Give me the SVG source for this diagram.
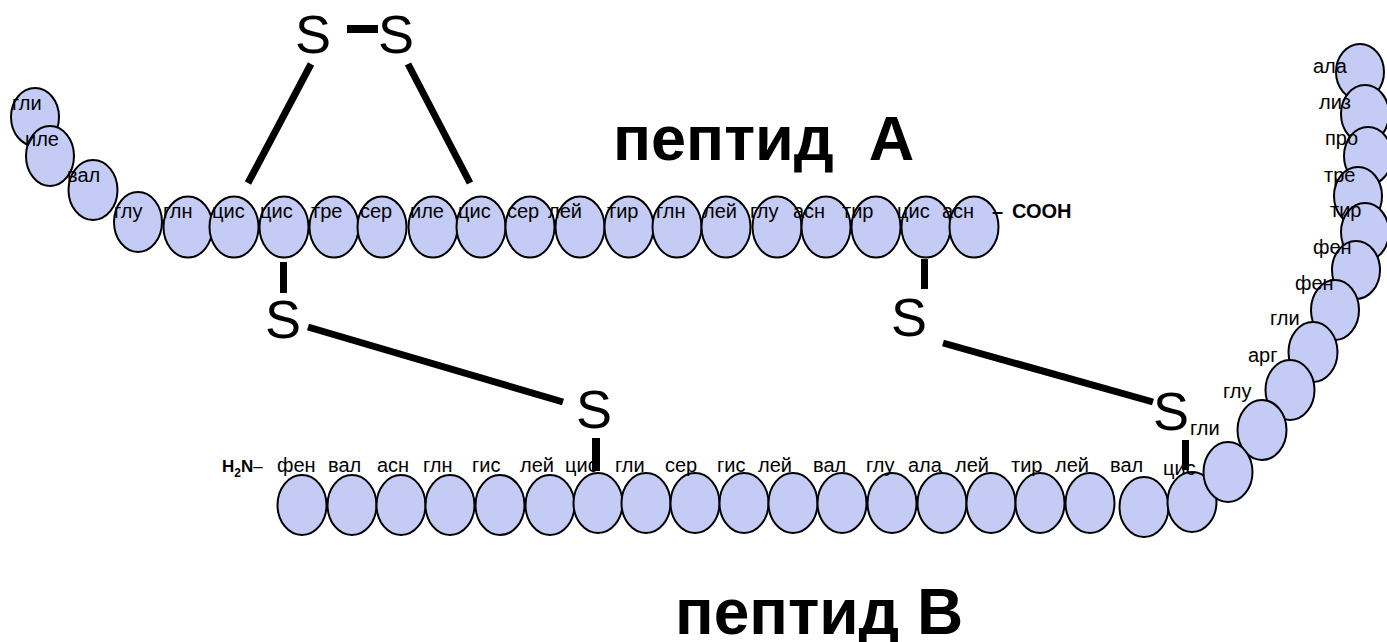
<svg xmlns="http://www.w3.org/2000/svg" width="1387" height="642" viewBox="0 0 1387 642">
<style>
.aa ellipse{fill:#c4ccf5;stroke:#000;stroke-width:2}
.aa text,.lbl{font-family:"Liberation Sans",Arial,sans-serif;font-size:20px;fill:#000}
.s{font-family:"Liberation Sans",Arial,sans-serif;font-size:54px;fill:#000}
.title{font-family:"Liberation Sans",Arial,sans-serif;font-weight:bold;fill:#000}
.b{font-family:"Liberation Sans",Arial,sans-serif;font-weight:bold;fill:#000}
#bonds line{stroke:#000;stroke-width:7}
#bonds rect{fill:#000}
</style>
<rect width="1387" height="642" fill="#fff"/>
<g id="chainA">
<g id="a1" class="aa"><ellipse cx="35" cy="117" rx="24" ry="29"/><text x="12" y="110">гли</text></g>
<g id="a2" class="aa"><ellipse cx="50" cy="156" rx="24" ry="30"/><text x="25" y="146">иле</text></g>
<g id="a3" class="aa"><ellipse cx="93" cy="190" rx="24.5" ry="30"/><text x="67" y="182">вал</text></g>
<g id="a4" class="aa"><ellipse cx="138" cy="222" rx="24" ry="30"/><text x="114" y="218">глу</text></g>
<g id="a5" class="aa"><ellipse cx="188" cy="227" rx="24.5" ry="30.5"/><text x="163" y="218">глн</text></g>
<g id="a6" class="aa"><ellipse cx="234" cy="227" rx="24.5" ry="30.5"/><text x="212" y="218">цис</text></g>
<g id="a7" class="aa"><ellipse cx="284" cy="227" rx="24.5" ry="30.5"/><text x="260" y="218">цис</text></g>
<g id="a8" class="aa"><ellipse cx="334" cy="227" rx="24.5" ry="30.5"/><text x="311" y="218">тре</text></g>
<g id="a9" class="aa"><ellipse cx="382" cy="227" rx="24.5" ry="30.5"/><text x="360" y="218">сер</text></g>
<g id="a10" class="aa"><ellipse cx="433" cy="227" rx="24.5" ry="30.5"/><text x="410" y="218">иле</text></g>
<g id="a11" class="aa"><ellipse cx="481" cy="227" rx="24.5" ry="30.5"/><text x="458" y="218">цис</text></g>
<g id="a12" class="aa"><ellipse cx="530" cy="227" rx="24.5" ry="30.5"/><text x="507" y="218">сер</text></g>
<g id="a13" class="aa"><ellipse cx="580" cy="227" rx="24.5" ry="30.5"/><text x="548" y="218">лей</text></g>
<g id="a14" class="aa"><ellipse cx="629" cy="227" rx="24.5" ry="30.5"/><text x="607" y="218">тир</text></g>
<g id="a15" class="aa"><ellipse cx="677" cy="227" rx="24.5" ry="30.5"/><text x="656" y="218">глн</text></g>
<g id="a16" class="aa"><ellipse cx="726" cy="227" rx="24.5" ry="30.5"/><text x="703" y="218">лей</text></g>
<g id="a17" class="aa"><ellipse cx="777" cy="227" rx="24.5" ry="30.5"/><text x="750" y="218">глу</text></g>
<g id="a18" class="aa"><ellipse cx="826" cy="227" rx="24.5" ry="30.5"/><text x="793" y="218">асн</text></g>
<g id="a19" class="aa"><ellipse cx="876" cy="227" rx="24.5" ry="30.5"/><text x="842" y="218">тир</text></g>
<g id="a20" class="aa"><ellipse cx="926" cy="227" rx="24.5" ry="30.5"/><text x="897" y="218">цис</text></g>
<g id="a21" class="aa"><ellipse cx="974" cy="227" rx="24.5" ry="30.5"/><text x="942" y="218">асн</text></g>
<g id="cooh"><text class="b" x="992" y="218" font-size="20">–</text><text class="b" x="1012" y="218" font-size="20">СООН</text></g>
</g>
<g id="chainB">
<g id="h2n"><text class="b" x="222" y="472" font-size="17">H<tspan font-size="12" dy="5">2</tspan><tspan dy="-5">N</tspan><tspan font-weight="normal">–</tspan></text></g>
<g id="b1" class="aa"><ellipse cx="302" cy="505" rx="24.5" ry="30"/><text x="277" y="472">фен</text></g>
<g id="b2" class="aa"><ellipse cx="352" cy="505" rx="24.5" ry="30"/><text x="328" y="472">вал</text></g>
<g id="b3" class="aa"><ellipse cx="401" cy="505" rx="24.5" ry="30"/><text x="377" y="472">асн</text></g>
<g id="b4" class="aa"><ellipse cx="450" cy="505" rx="24.5" ry="30"/><text x="423" y="472">глн</text></g>
<g id="b5" class="aa"><ellipse cx="500" cy="505" rx="24.5" ry="30"/><text x="472" y="472">гис</text></g>
<g id="b6" class="aa"><ellipse cx="550" cy="505" rx="24.5" ry="30"/><text x="520" y="472">лей</text></g>
<g id="b7" class="aa"><ellipse cx="598" cy="503" rx="24.5" ry="30"/><text x="565" y="472">цис</text></g>
<g id="b8" class="aa"><ellipse cx="646" cy="503" rx="24.5" ry="30"/><text x="615" y="472">гли</text></g>
<g id="b9" class="aa"><ellipse cx="695" cy="503" rx="24.5" ry="30"/><text x="665" y="472">сер</text></g>
<g id="b10" class="aa"><ellipse cx="744" cy="503" rx="24.5" ry="30"/><text x="717" y="472">гис</text></g>
<g id="b11" class="aa"><ellipse cx="793" cy="503" rx="24.5" ry="30"/><text x="758" y="472">лей</text></g>
<g id="b12" class="aa"><ellipse cx="842" cy="503" rx="24.5" ry="30"/><text x="813" y="472">вал</text></g>
<g id="b13" class="aa"><ellipse cx="892" cy="503" rx="24.5" ry="30"/><text x="866" y="472">глу</text></g>
<g id="b14" class="aa"><ellipse cx="942" cy="503" rx="24.5" ry="30"/><text x="908" y="472">ала</text></g>
<g id="b15" class="aa"><ellipse cx="991" cy="503" rx="24.5" ry="30"/><text x="955" y="472">лей</text></g>
<g id="b16" class="aa"><ellipse cx="1040" cy="503" rx="24.5" ry="30"/><text x="1011" y="472">тир</text></g>
<g id="b17" class="aa"><ellipse cx="1090" cy="503" rx="24.5" ry="30"/><text x="1055" y="472">лей</text></g>
<g id="b18" class="aa"><ellipse cx="1144" cy="507" rx="24.5" ry="30"/><text x="1110" y="472">вал</text></g>
<g id="b19" class="aa"><ellipse cx="1192" cy="502" rx="24.5" ry="30"/><text x="1163" y="475">цис</text></g>
<g id="r11" class="aa"><ellipse cx="1360" cy="72" rx="24" ry="28"/><text x="1313" y="73">ала</text></g>
<g id="r10" class="aa"><ellipse cx="1365" cy="114" rx="24" ry="29"/><text x="1319" y="109">лиз</text></g>
<g id="r9" class="aa"><ellipse cx="1368" cy="156" rx="24" ry="29"/><text x="1325" y="145">про</text></g>
<g id="r8" class="aa"><ellipse cx="1358" cy="196" rx="24" ry="29"/><text x="1324" y="182">тре</text></g>
<g id="r7" class="aa"><ellipse cx="1365" cy="232" rx="24" ry="29"/><text x="1330" y="217">тир</text></g>
<g id="r6" class="aa"><ellipse cx="1356" cy="270" rx="24" ry="29"/><text x="1313" y="254">фен</text></g>
<g id="r5" class="aa"><ellipse cx="1335" cy="310" rx="24" ry="30"/><text x="1295" y="290">фен</text></g>
<g id="r4" class="aa"><ellipse cx="1313" cy="352" rx="24.5" ry="30"/><text x="1270" y="325">гли</text></g>
<g id="r3" class="aa"><ellipse cx="1290" cy="390" rx="24.5" ry="30"/><text x="1248" y="362">арг</text></g>
<g id="r2" class="aa"><ellipse cx="1262" cy="430" rx="24.5" ry="30"/><text x="1223" y="398">глу</text></g>
<g id="r1" class="aa"><ellipse cx="1228" cy="472" rx="24.5" ry="30"/><text x="1190" y="435">гли</text></g>
</g>
<g id="bonds">
<rect x="347" y="25" width="31" height="8"/>
<line x1="311" y1="64" x2="248" y2="183"/>
<line x1="408" y1="64" x2="470" y2="183"/>
<rect x="280" y="262" width="7" height="31"/>
<line x1="308" y1="327" x2="563" y2="402"/>
<rect x="592" y="438" width="8" height="33"/>
<rect x="921" y="259" width="7" height="30"/>
<line x1="943" y1="343" x2="1153" y2="402"/>
<rect x="1182" y="440" width="7" height="30"/>
</g>
<g id="sulfurs">
<text class="s" x="313" y="53" text-anchor="middle">S</text>
<text class="s" x="396" y="53" text-anchor="middle">S</text>
<text class="s" x="283" y="338" text-anchor="middle">S</text>
<text class="s" x="594" y="428" text-anchor="middle">S</text>
<text class="s" x="909" y="336" text-anchor="middle">S</text>
<text class="s" x="1171" y="430" text-anchor="middle">S</text>
</g>
<g id="titles">
<text class="title" x="613" y="160" font-size="63" xml:space="preserve">пептид  А</text>
<text class="title" x="675" y="634" font-size="64">пептид В</text>
</g>
</svg>
